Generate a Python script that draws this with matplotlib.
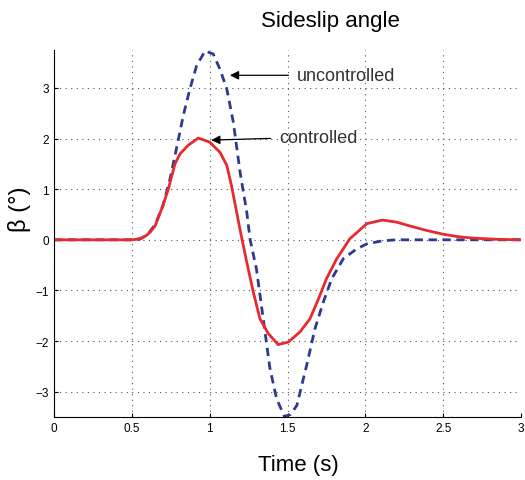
import matplotlib.pyplot as plt

plt.rcParams['font.family'] = ['Liberation Sans', 'DejaVu Sans']

# uncontrolled response (blue dashed)
t_unc = [0, 0.5, 0.55, 0.6, 0.65, 0.70, 0.745, 0.80, 0.83, 0.873, 0.916, 0.97,
         1.023, 1.066, 1.11, 1.152, 1.195, 1.238, 1.26, 1.30, 1.344, 1.387,
         1.43, 1.48, 1.52, 1.56, 1.623, 1.676, 1.73, 1.784, 1.858, 1.944, 2.01,
         2.11, 2.2, 2.5, 3.0]
b_unc = [0, 0, 0.01, 0.1, 0.3, 0.68, 1.2, 2.0, 2.45, 2.98, 3.44, 3.73,
         3.67, 3.37, 2.98, 2.32, 1.34, 0.55, 0.0, -0.57, -1.56, -2.54,
         -3.14, -3.49, -3.45, -3.27, -2.48, -1.76, -1.23, -0.77, -0.375, -0.18, -0.08,
         -0.02, 0.0, 0.0, 0.0]

# controlled response (red)
t_ctl = [0, 0.5, 0.53, 0.565, 0.595, 0.62, 0.65, 0.70, 0.734, 0.777, 0.81, 0.863,
         0.927, 1.00, 1.066, 1.11, 1.14, 1.173, 1.195, 1.238, 1.28, 1.323, 1.376,
         1.44, 1.505, 1.58, 1.644, 1.70, 1.75, 1.816, 1.90, 2.01, 2.11, 2.2, 2.29,
         2.4, 2.5, 2.6, 2.71, 2.85, 3.0]
b_ctl = [0, 0, 0.01, 0.04, 0.09, 0.16, 0.28, 0.68, 1.0, 1.50, 1.70, 1.87,
         2.01, 1.93, 1.73, 1.47, 1.07, 0.55, 0.2, -0.44, -1.03, -1.56, -1.85,
         -2.07, -2.02, -1.82, -1.56, -1.16, -0.77, -0.375, 0.02, 0.32, 0.39, 0.35, 0.27,
         0.18, 0.11, 0.06, 0.03, 0.01, 0.0]

fig = plt.figure(figsize=(5.25, 4.81), dpi=100)
ax = fig.add_axes([0.1029, 0.131, 0.8895, 0.763])

ax.plot(t_unc, b_unc, color='#2e3a91', linewidth=2, linestyle='--', dashes=(3, 2))
ax.plot(t_ctl, b_ctl, color='#e62a2f', linewidth=2)

ax.set_xlim(0, 3)
ax.set_ylim(-3.5, 3.75)
ax.set_xticks([0, 0.5, 1, 1.5, 2, 2.5, 3])
ax.set_xticklabels(['0', '0.5', '1', '1.5', '2', '2.5', '3'])
ax.set_yticks([-3, -2, -1, 0, 1, 2, 3])
ax.set_yticklabels(['\u22123', '\u22122', '\u22121', '0', '1', '2', '3'])
ax.tick_params(direction='in', length=3, labelsize=8.5, width=0.8)
ax.grid(True, linestyle=(0, (1, 4)), color='#555555', linewidth=0.8)
ax.spines['top'].set_visible(False)
ax.spines['right'].set_visible(False)

ax.annotate('uncontrolled', xy=(1.13, 3.25), xytext=(1.56, 3.25),
            fontsize=13, color='#333333', va='center',
            arrowprops=dict(arrowstyle='-|>', color='black', lw=0.9, mutation_scale=13,
                            shrinkA=4, shrinkB=0))
ax.annotate('controlled', xy=(1.01, 1.97), xytext=(1.445, 2.03),
            fontsize=13, color='#333333', va='center',
            arrowprops=dict(arrowstyle='-|>', color='black', lw=0.9, mutation_scale=13,
                            shrinkA=4, shrinkB=0))

fig.text(0.63, 0.955, 'Sideslip angle', fontsize=16, ha='center', va='center')
fig.text(0.568, 0.033, 'Time (s)', fontsize=16, ha='center', va='center')
fig.text(0.038, 0.565, '\u03b2 (\u00b0)', fontsize=17, ha='center', va='center', rotation=90)

fig.savefig('out.png', dpi=100)
